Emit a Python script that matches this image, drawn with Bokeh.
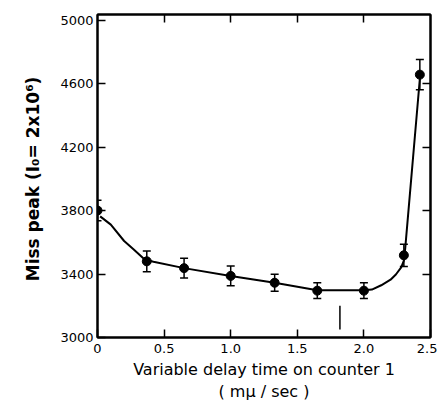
from bokeh.plotting import figure
from bokeh.models import ColumnDataSource, Whisker, TeeHead, LinearAxis, FixedTicker
from bokeh.embed import file_html
from bokeh.resources import INLINE

# data
delay = [0.0, 0.37, 0.65, 1.0, 1.33, 1.65, 2.0, 2.30, 2.42]
miss_peak = [3800, 3480, 3437, 3388, 3345, 3295, 3295, 3518, 4656]
err = [65, 65, 62, 62, 53, 50, 50, 70, 95]

curve_x = [0.02, 0.10, 0.20, 0.27, 0.35, 0.42, 0.65, 1.0, 1.33, 1.65, 2.0, 2.06, 2.13, 2.20, 2.24, 2.28, 2.30, 2.31, 2.42]
curve_y = [3763, 3711, 3608, 3556, 3494, 3477, 3437, 3388, 3345, 3298, 3298, 3302, 3329, 3364, 3397, 3442, 3484, 3560, 4630]

mark_x = [1.82, 1.82]
mark_y = [3050, 3200]

x_ticks = [0, 0.5, 1.0, 1.5, 2.0, 2.5]
x_tick_labels = ["0", "0.5", "1.0", "1.5", "2.0", "2.5"]
y_ticks = [3000, 3400, 3800, 4200, 4600, 5000]
top_ticks = [0.5, 1.0, 1.5, 2.0]
right_ticks = [3400, 3800, 4200, 4600]

x_title = "Variable delay time on counter 1\n( m\u03bc / sec )"
y_title = "Miss peak  (I\u2080= 2x10\u2076)"

font = "DejaVu Sans"

p = figure(width=437, height=410, x_range=(0, 2.5), y_range=(3000, 5035),
           output_backend="svg", toolbar_location=None,
           min_border_left=97, min_border_right=7, min_border_top=14, min_border_bottom=73)
p.background_fill_color = "white"
p.border_fill_color = "white"
p.xgrid.visible = False
p.ygrid.visible = False
p.outline_line_color = "black"
p.outline_line_width = 2

# bottom axis
xa = p.xaxis[0]
xa.ticker = FixedTicker(ticks=x_ticks)
xa.major_label_overrides = {t: l for t, l in zip(x_ticks, x_tick_labels)}
xa.minor_tick_line_color = None
xa.major_tick_in = 8
xa.major_tick_out = 0
xa.major_tick_line_width = 1.5
xa.axis_line_width = 2
xa.major_label_standoff = 6
xa.major_label_text_font = font
xa.major_label_text_font_size = "13px"
xa.major_label_text_color = "black"
xa.axis_label = x_title
xa.axis_label_text_font = font
xa.axis_label_text_font_style = "normal"
xa.axis_label_text_font_size = "16px"
xa.axis_label_text_color = "black"
xa.axis_label_standoff = 4

# left axis
ya = p.yaxis[0]
ya.ticker = FixedTicker(ticks=y_ticks)
ya.minor_tick_line_color = None
ya.major_tick_in = 8
ya.major_tick_out = 0
ya.major_tick_line_width = 1.5
ya.axis_line_width = 2
ya.major_label_standoff = 4
ya.major_label_text_font = font
ya.major_label_text_font_size = "13px"
ya.major_label_text_color = "black"
ya.axis_label = y_title
ya.axis_label_text_font = font
ya.axis_label_text_font_style = "bold"
ya.axis_label_text_font_size = "17px"
ya.axis_label_text_color = "black"
ya.axis_label_standoff = 14

# top and right frame ticks (inward, unlabelled)
top = LinearAxis(ticker=FixedTicker(ticks=top_ticks), major_tick_in=8, major_tick_out=0,
                 minor_tick_line_color=None, axis_line_width=2, major_tick_line_width=1.5,
                 major_label_overrides={t: "" for t in top_ticks}, major_label_standoff=0)
p.add_layout(top, "above")
right = LinearAxis(ticker=FixedTicker(ticks=right_ticks), major_tick_in=8, major_tick_out=0,
                   minor_tick_line_color=None, axis_line_width=2, major_tick_line_width=1.5,
                   major_label_overrides={t: "" for t in right_ticks}, major_label_standoff=0)
p.add_layout(right, "right")

# curve
p.line(curve_x, curve_y, line_color="black", line_width=2)

# marker line
p.line(mark_x, mark_y, line_color="black", line_width=1.5)

# error bars and points
upper = [v + e for v, e in zip(miss_peak, err)]
lower = [v - e for v, e in zip(miss_peak, err)]
src = ColumnDataSource(data=dict(x=delay, y=miss_peak, upper=upper, lower=lower))
p.add_layout(Whisker(base="x", upper="upper", lower="lower", source=src, line_color="black",
                     line_width=1.5,
                     upper_head=TeeHead(size=8, line_color="black", line_width=1.5),
                     lower_head=TeeHead(size=8, line_color="black", line_width=1.5)))
p.scatter("x", "y", source=src, size=9, fill_color="black", line_color="black")

open("out.html", "w").write(file_html(p, INLINE))
